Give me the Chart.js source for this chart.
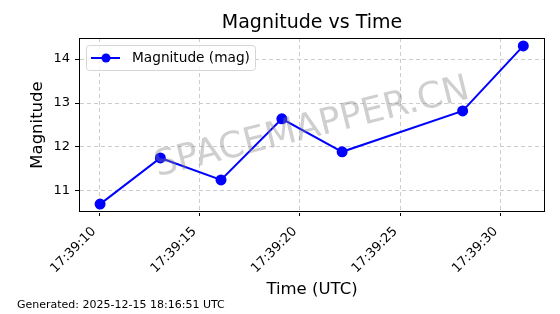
<!DOCTYPE html>
<html><head><meta charset="utf-8">
<script src="https://cdn.jsdelivr.net/npm/chart.js@4/dist/chart.umd.min.js"></script>
<style>html,body{margin:0;padding:0;background:#fff}#wrap{width:560px;height:314px;position:relative}</style>
</head><body><div id="wrap"><canvas id="c" width="560" height="314"></canvas></div>
<script>
// Data (seconds after 17:39:00 UTC)
const timeSeconds = [10.05, 13.05, 16.07, 19.1, 22.1, 28.1, 31.12];
const magnitudes = [10.70, 11.75, 11.25, 12.64, 11.89, 12.82, 14.30];
const xTickSeconds = [10, 15, 20, 25, 30];
const yTickValues = [11, 12, 13, 14];
const timePrefix = "17:39:";
const titleText = "Magnitude vs Time";
const seriesLabel = "Magnitude (mag)";
const footerText = "Generated: 2025-12-15 18:16:51 UTC";
const watermarkText = "SPACEMAPPER.CN";

const FONT = "'DejaVu Sans', sans-serif";
const pts = timeSeconds.map((t, i) => ({x: t, y: magnitudes[i]}));

const extras = {
  id: 'extras',
  afterDatasetsDraw(chart) {
    const ctx = chart.ctx;
    ctx.save();
    // watermark
    ctx.translate(312, 128);
    ctx.rotate(-14 * Math.PI / 180);
    ctx.font = "36px " + FONT;
    ctx.fillStyle = "rgba(128,128,128,0.38)";
    ctx.textAlign = "center"; ctx.textBaseline = "middle";
    ctx.fillText(watermarkText, 0, 0);
    ctx.restore();
    // legend
    ctx.save();
    const lx = 86.5, ly = 45.5, lw = 169, lh = 25, r = 3;
    ctx.beginPath();
    ctx.moveTo(lx + r, ly); ctx.lineTo(lx + lw - r, ly); ctx.arcTo(lx + lw, ly, lx + lw, ly + r, r);
    ctx.lineTo(lx + lw, ly + lh - r); ctx.arcTo(lx + lw, ly + lh, lx + lw - r, ly + lh, r);
    ctx.lineTo(lx + r, ly + lh); ctx.arcTo(lx, ly + lh, lx, ly + lh - r, r);
    ctx.lineTo(lx, ly + r); ctx.arcTo(lx, ly, lx + r, ly, r); ctx.closePath();
    ctx.fillStyle = "rgba(255,255,255,0.8)"; ctx.fill();
    ctx.strokeStyle = "#d6d6d6"; ctx.lineWidth = 1; ctx.stroke();
    ctx.strokeStyle = "#0000ff"; ctx.lineWidth = 2;
    ctx.beginPath(); ctx.moveTo(91, 58); ctx.lineTo(120, 58); ctx.stroke();
    ctx.fillStyle = "#0000ff"; ctx.beginPath(); ctx.arc(106, 58, 4.5, 0, Math.PI * 2); ctx.fill();
    ctx.fillStyle = "#000"; ctx.font = "13.7px " + FONT; ctx.textBaseline = "middle"; ctx.textAlign = "left";
    ctx.fillText(seriesLabel, 132, 58);
    ctx.restore();
  },
  afterDraw(chart) {
    const ctx = chart.ctx, a = chart.chartArea;
    ctx.save();
    ctx.strokeStyle = "#000"; ctx.lineWidth = 1;
    ctx.strokeRect(a.left + 0.5, a.top + 0.5, a.right - a.left - 1, a.bottom - a.top - 1);
    ctx.fillStyle = "#000"; ctx.textAlign = "center"; ctx.textBaseline = "middle";
    ctx.font = "19px " + FONT;
    ctx.fillText(titleText, (a.left + a.right) / 2, 23);
    ctx.font = "11px " + FONT; ctx.textAlign = "left";
    ctx.fillText(footerText, 17, 305);
    ctx.restore();
  }
};

new Chart(document.getElementById('c'), {
  type: 'line',
  data: { datasets: [{
    label: seriesLabel, data: pts,
    borderColor: '#0000ff', backgroundColor: '#0000ff',
    borderWidth: 2, pointRadius: 4.5, pointHoverRadius: 4.5, tension: 0, fill: false
  }]},
  options: {
    responsive: false, animation: false, devicePixelRatio: 1,
    layout: { padding: { left: 28, right: 15, top: 38, bottom: 12 } },
    plugins: { legend: { display: false }, title: { display: false }, tooltip: { enabled: false } },
    scales: {
      x: {
        type: 'linear', min: 9.0, max: 32.2,
        afterBuildTicks: s => { s.ticks = xTickSeconds.map(v => ({value: v})); },
        afterFit: s => { s.height = 314 - 212 - 12; },
        ticks: { callback: v => timePrefix + String(v).padStart(2, '0'), maxRotation: 45, minRotation: 45,
          color: '#000', font: { family: FONT, size: 13 }, padding: 8, labelOffset: -5 },
        grid: { color: '#cccccc', drawOnChartArea: true, tickLength: 4, tickColor: '#000', tickBorderDash: [], tickWidth: 1 },
        border: { display: true, color: 'rgba(0,0,0,0)', dash: [4, 3] },
        title: { display: true, text: 'Time (UTC)', color: '#000', font: { family: FONT, size: 16.5 }, padding: { top: 0, bottom: 2 } }
      },
      y: {
        type: 'linear', min: 10.52, max: 14.48,
        afterBuildTicks: s => { s.ticks = yTickValues.map(v => ({value: v})); },
        afterFit: s => { s.width = 79 - 28; },
        ticks: { color: '#000', font: { family: FONT, size: 13 }, padding: 5 },
        grid: { color: '#cccccc', tickLength: 4, tickColor: '#000', tickBorderDash: [], tickWidth: 1 },
        border: { display: true, color: 'rgba(0,0,0,0)', dash: [4, 3] },
        title: { display: true, text: 'Magnitude', color: '#000', font: { family: FONT, size: 16.5 }, padding: { top: 0, bottom: 0 } }
      }
    }
  },
  plugins: [extras]
});
</script></body></html>
